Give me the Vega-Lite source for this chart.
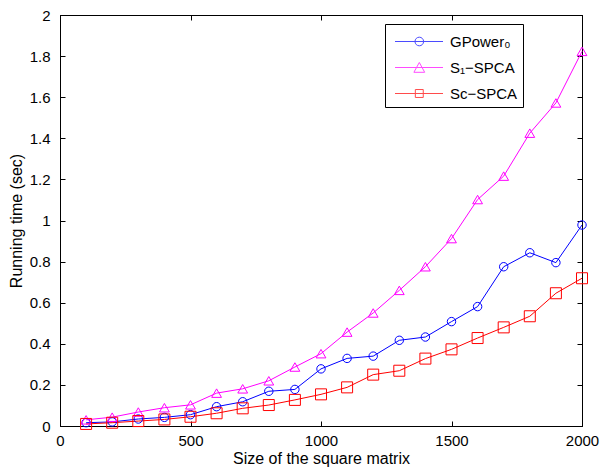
{
  "$schema": "https://vega.github.io/schema/vega-lite/v6.json",
  "width": 522,
  "height": 411,
  "autosize": "none",
  "padding": {"left": 60, "top": 15, "right": 20, "bottom": 42},
  "background": "white",
  "config": {
    "font": "Liberation Sans",
    "view": {"stroke": "black", "strokeWidth": 1},
    "axis": {
      "grid": false,
      "domainColor": "black",
      "domainWidth": 1,
      "tickColor": "black",
      "tickWidth": 1,
      "tickSize": -5,
      "labelFont": "Liberation Sans",
      "labelFontSize": 15,
      "labelColor": "black",
      "labelFlush": false,
      "labelOverlap": false,
      "labelBound": false,
      "titleFont": "Liberation Sans",
      "titleFontSize": 16,
      "titleFontWeight": "normal",
      "titleColor": "black"
    },
    "legend": {
      "orient": "none",
      "legendX": 325,
      "legendY": 9,
      "padding": 5,
      "strokeColor": "black",
      "fillColor": "white",
      "rowPadding": 5,
      "labelOffset": 35,
      "labelFont": "Liberation Sans",
      "labelFontSize": 15,
      "labelFontWeight": "normal",
      "labelColor": "black",
      "symbolSize": 576,
      "symbolStrokeWidth": 1,
      "title": null
    }
  },
  "data": {
    "values": [
      {"n": 100, "series": "GPower₀", "t": 0.016},
      {"n": 200, "series": "GPower₀", "t": 0.02},
      {"n": 300, "series": "GPower₀", "t": 0.034},
      {"n": 400, "series": "GPower₀", "t": 0.042},
      {"n": 500, "series": "GPower₀", "t": 0.055},
      {"n": 600, "series": "GPower₀", "t": 0.094},
      {"n": 700, "series": "GPower₀", "t": 0.118},
      {"n": 800, "series": "GPower₀", "t": 0.169},
      {"n": 900, "series": "GPower₀", "t": 0.178},
      {"n": 1000, "series": "GPower₀", "t": 0.278},
      {"n": 1100, "series": "GPower₀", "t": 0.329},
      {"n": 1200, "series": "GPower₀", "t": 0.34},
      {"n": 1300, "series": "GPower₀", "t": 0.417},
      {"n": 1400, "series": "GPower₀", "t": 0.433},
      {"n": 1500, "series": "GPower₀", "t": 0.508},
      {"n": 1600, "series": "GPower₀", "t": 0.581},
      {"n": 1700, "series": "GPower₀", "t": 0.775},
      {"n": 1800, "series": "GPower₀", "t": 0.843},
      {"n": 1900, "series": "GPower₀", "t": 0.795},
      {"n": 2000, "series": "GPower₀", "t": 0.978},
      {"n": 100, "series": "S₁−SPCA", "t": 0.03},
      {"n": 200, "series": "S₁−SPCA", "t": 0.043},
      {"n": 300, "series": "S₁−SPCA", "t": 0.068},
      {"n": 400, "series": "S₁−SPCA", "t": 0.089},
      {"n": 500, "series": "S₁−SPCA", "t": 0.103},
      {"n": 600, "series": "S₁−SPCA", "t": 0.16},
      {"n": 700, "series": "S₁−SPCA", "t": 0.181},
      {"n": 800, "series": "S₁−SPCA", "t": 0.22},
      {"n": 900, "series": "S₁−SPCA", "t": 0.287},
      {"n": 1000, "series": "S₁−SPCA", "t": 0.352},
      {"n": 1100, "series": "S₁−SPCA", "t": 0.457},
      {"n": 1200, "series": "S₁−SPCA", "t": 0.55},
      {"n": 1300, "series": "S₁−SPCA", "t": 0.66},
      {"n": 1400, "series": "S₁−SPCA", "t": 0.775},
      {"n": 1500, "series": "S₁−SPCA", "t": 0.912},
      {"n": 1600, "series": "S₁−SPCA", "t": 1.102},
      {"n": 1700, "series": "S₁−SPCA", "t": 1.216},
      {"n": 1800, "series": "S₁−SPCA", "t": 1.425},
      {"n": 1900, "series": "S₁−SPCA", "t": 1.572},
      {"n": 2000, "series": "S₁−SPCA", "t": 1.823},
      {"n": 100, "series": "Sc−SPCA", "t": 0.01},
      {"n": 200, "series": "Sc−SPCA", "t": 0.016},
      {"n": 300, "series": "Sc−SPCA", "t": 0.024},
      {"n": 400, "series": "Sc−SPCA", "t": 0.032},
      {"n": 500, "series": "Sc−SPCA", "t": 0.045},
      {"n": 600, "series": "Sc−SPCA", "t": 0.062},
      {"n": 700, "series": "Sc−SPCA", "t": 0.086},
      {"n": 800, "series": "Sc−SPCA", "t": 0.102},
      {"n": 900, "series": "Sc−SPCA", "t": 0.127},
      {"n": 1000, "series": "Sc−SPCA", "t": 0.154},
      {"n": 1100, "series": "Sc−SPCA", "t": 0.188},
      {"n": 1200, "series": "Sc−SPCA", "t": 0.25},
      {"n": 1300, "series": "Sc−SPCA", "t": 0.269},
      {"n": 1400, "series": "Sc−SPCA", "t": 0.328},
      {"n": 1500, "series": "Sc−SPCA", "t": 0.373},
      {"n": 1600, "series": "Sc−SPCA", "t": 0.428},
      {"n": 1700, "series": "Sc−SPCA", "t": 0.48},
      {"n": 1800, "series": "Sc−SPCA", "t": 0.534},
      {"n": 1900, "series": "Sc−SPCA", "t": 0.646},
      {"n": 2000, "series": "Sc−SPCA", "t": 0.719}
    ]
  },
  "layer": [
    {
      "mark": {"type": "line", "strokeWidth": 1},
      "encoding": {
        "x": {
          "field": "n", "type": "quantitative",
          "scale": {"domain": [0, 2000], "nice": false, "zero": false},
          "axis": {"orient": "bottom", "values": [0, 500, 1000, 1500, 2000], "format": "d", "labelPadding": 12, "title": "Size of the square matrix", "titlePadding": 2, "titleFontWeight": "normal"}
        },
        "y": {
          "field": "t", "type": "quantitative",
          "scale": {"domain": [0, 2], "nice": false},
          "axis": {"orient": "left", "values": [0, 0.2, 0.4, 0.6, 0.8, 1, 1.2, 1.4, 1.6, 1.8, 2], "format": "~g", "labelPadding": 15, "title": "Running time (sec)", "titlePadding": 5, "titleFontWeight": "normal"}
        },
        "color": {
          "field": "series", "type": "nominal",
          "scale": {"domain": ["GPower₀", "S₁−SPCA", "Sc−SPCA"], "range": ["#0000ff", "#ff00ff", "#ff0000"]},
          "legend": null
        },
        "order": {"field": "n", "type": "quantitative"}
      }
    },
    {
      "mark": {"type": "point", "filled": false, "strokeWidth": 1, "opacity": 1},
      "encoding": {
        "x": {
          "field": "n", "type": "quantitative",
          "scale": {"domain": [0, 2000], "nice": false, "zero": false},
          "axis": {"orient": "top", "values": [0, 500, 1000, 1500, 2000], "labels": false, "title": null}
        },
        "y": {
          "field": "t", "type": "quantitative",
          "scale": {"domain": [0, 2], "nice": false},
          "axis": {"orient": "right", "values": [0, 0.2, 0.4, 0.6, 0.8, 1, 1.2, 1.4, 1.6, 1.8, 2], "labels": false, "title": null}
        },
        "color": {
          "field": "series", "type": "nominal",
          "scale": {"domain": ["GPower₀", "S₁−SPCA", "Sc−SPCA"], "range": ["#0000ff", "#ff00ff", "#ff0000"]},
          "legend": null
        },
        "shape": {
          "field": "series", "type": "nominal",
          "scale": {"domain": ["GPower₀", "S₁−SPCA", "Sc−SPCA"], "range": ["circle", "triangle-up", "square"]},
          "legend": null
        },
        "size": {
          "field": "series", "type": "nominal",
          "scale": {"domain": ["GPower₀", "S₁−SPCA", "Sc−SPCA"], "range": [71, 121, 64]},
          "legend": null
        }
      }
    },
    {
      "transform": [{"filter": "false"}],
      "mark": {"type": "point", "filled": false, "strokeWidth": 1},
      "encoding": {
        "x": {"field": "n", "type": "quantitative", "axis": null},
        "y": {"field": "t", "type": "quantitative", "axis": null},
        "color": {
          "field": "series", "type": "nominal",
          "scale": {"domain": ["GPower₀", "S₁−SPCA", "Sc−SPCA"], "range": ["#0000ff", "#ff00ff", "#ff0000"]}
        },
        "shape": {
          "field": "series", "type": "nominal",
          "scale": {"domain": ["GPower₀", "S₁−SPCA", "Sc−SPCA"], "range": [
            "M-0.625,0H3.375M1.04,0A0.36,0.36,0,1,1,1.76,0A0.36,0.36,0,1,1,1.04,0Z",
            "M-0.625,0H3.375M1.4,-0.42L1.85,0.4L0.95,0.4Z",
            "M-0.625,0H3.375M1.07,-0.33H1.73V0.33H1.07Z"
          ]}
        }
      }
    }
  ],
  "resolve": {
    "axis": {"x": "independent", "y": "independent"},
    "scale": {"color": "independent", "shape": "independent", "size": "independent"}
  }
}
